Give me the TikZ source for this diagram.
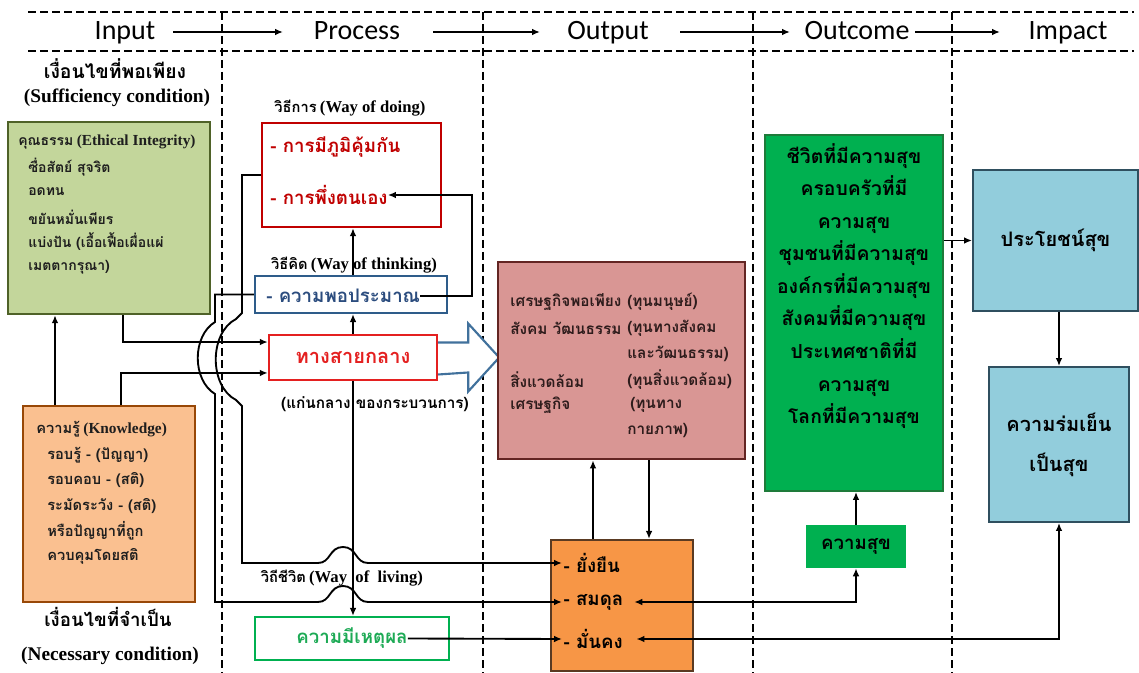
\documentclass[tikz,border=0pt]{standalone}
\usepackage{fontspec}
\setmainfont{Liberation Serif}
\newfontfamily\thaifnt[Script=Thai]{Loma}
\newfontfamily\hdrfnt{Carlito}
\usetikzlibrary{arrows.meta,calc}
\definecolor{virtueFill}{HTML}{C3D69B}
\definecolor{virtueDraw}{HTML}{4F6228}
\definecolor{knowFill}{HTML}{FAC090}
\definecolor{knowDraw}{HTML}{984807}
\definecolor{doingRed}{HTML}{C00000}
\definecolor{thinkDraw}{HTML}{2E5C8A}
\definecolor{thinkText}{HTML}{2B4C7E}
\definecolor{midRed}{HTML}{E42020}
\definecolor{arrowBlue}{HTML}{41719C}
\definecolor{capFill}{HTML}{D99694}
\definecolor{capDraw}{HTML}{632523}
\definecolor{capText}{HTML}{2E1C1C}
\definecolor{sustFill}{HTML}{F79646}
\definecolor{sustDraw}{HTML}{5A3A22}
\definecolor{happyFill}{HTML}{00B050}
\definecolor{happyDraw}{HTML}{1E7B3A}
\definecolor{blueFill}{HTML}{92CDDC}
\definecolor{blueDraw}{HTML}{2F4F5F}
\definecolor{reasonGreen}{HTML}{1DAA55}
\definecolor{darkText}{HTML}{1E1E1E}
\newcommand\thtxt[2]{{\thaifnt\bfseries\fontsize{#1}{#1}\selectfont #2}}
\newcommand\entxt[2]{{\rmfamily\bfseries\fontsize{#1}{#1}\selectfont #2}}
\begin{document}
\begin{tikzpicture}[x=0.75pt,y=-0.75pt,
  rbox/.style 2 args={rectangle,minimum width=#1*0.75pt,minimum height=#2*0.75pt,inner sep=0pt},
  conn/.style={line width=1.4pt,draw=black},
  arr/.style={-{Latex[length=6pt,width=5pt]}},
  darr/.style={{Latex[length=6pt,width=5pt]}-{Latex[length=6pt,width=5pt]}},
  dashline/.style={line width=1.6pt,dash pattern=on 6pt off 3pt},
  hdr/.style={inner sep=0pt,anchor=base,font=\hdrfnt\fontsize{21}{24}\selectfont},
  lbl/.style={inner sep=0pt,text=black},
  tl/.style={inner sep=0pt,anchor=west,text=darkText}]
\useasboundingbox (0,0) rectangle (1139,673);
\fill[white] (0,0) rectangle (1139,673);

% ---------- header ----------
\draw[dashline] (28,12) -- (1134,12);
\draw[dashline] (28,51) -- (1134,51);
\foreach \xx in {222,483,753,952}{\draw[dashline] (\xx,12) -- (\xx,673);}
\node[hdr] (hin)   at (125,40)  {Input};
\node[hdr] (hproc) at (357,40)  {Process};
\node[hdr] (hout)  at (608,40)  {Output};
\node[hdr] (hoc)   at (857,40)  {Outcome};
\node[hdr] (himp)  at (1068,40) {Impact};
\draw[conn,arr] ($(hin.base)+(48,-8)$) -- ($(hproc.base)+(-74,-8)$);
\draw[conn,arr] ($(hproc.base)+(76,-8)$) -- ($(hout.base)+(-68,-8)$);
\draw[conn,arr] ($(hout.base)+(72,-8)$) -- ($(hoc.base)+(-67,-8)$);
\draw[conn,arr] ($(hoc.base)+(58,-8)$) -- ($(himp.base)+(-68,-8)$);

% ---------- input column ----------
\node[lbl,anchor=base] (suff)   at (115,79)  {\thtxt{14.5}{เงื่อนไขที่พอเพียง}};
\node[lbl,anchor=base] (suffen) at (117,103) {\entxt{14.5}{(Sufficiency condition)}};
\node[rbox={202}{192},draw=virtueDraw,fill=virtueFill,line width=1.8pt] (virtue) at (109,218) {};
\node[tl] (g1) at (18,142) {\thtxt{10.5}{คุณธรรม} \entxt{11.5}{(Ethical Integrity)}};
\node[tl] (g2) at (28,167) {\thtxt{10.5}{ซื่อสัตย์ สุจริต}};
\node[tl] (g3) at (28,192) {\thtxt{10.5}{อดทน}};
\node[tl] (g4) at (28,217) {\thtxt{10.5}{ขยันหมั่นเพียร}};
\node[tl] (g5) at (28,242) {\thtxt{10.5}{แบ่งปัน (เอื้อเฟื้อเผื่อแผ่}};
\node[tl] (g6) at (28,267) {\thtxt{10.5}{เมตตากรุณา)}};

\node[rbox={172}{196},draw=knowDraw,fill=knowFill,line width=1.8pt] (know) at (109,504) {};
\node[tl] (k1) at (36,429) {\thtxt{11}{ความรู้} \entxt{11.5}{(Knowledge)}};
\node[tl] (k2) at (47,455) {\thtxt{11}{รอบรู้ - (ปัญญา)}};
\node[tl] (k3) at (47,480) {\thtxt{11}{รอบคอบ - (สติ)}};
\node[tl] (k4) at (47,506) {\thtxt{11}{ระมัดระวัง - (สติ)}};
\node[tl] (k5) at (47,531) {\thtxt{11}{หรือปัญญาที่ถูก}};
\node[tl] (k6) at (47,556) {\thtxt{11}{ควบคุมโดยสติ}};
\node[lbl,anchor=base] (nec)   at (108,626) {\thtxt{14}{เงื่อนไขที่จำเป็น}};
\node[lbl,anchor=base] (necen) at (110,660) {\entxt{14.5}{(Necessary condition)}};

% ---------- process column ----------
\node[lbl] (wdo) at (350,108) {\thtxt{11}{วิธีการ} \entxt{12.5}{(Way of doing)}};
\node[rbox={179}{104},draw=doingRed,line width=1.8pt] (doing) at (351.5,175) {};
\node[tl,text=doingRed] (d1) at (270,147) {\thtxt{14}{- การมีภูมิคุ้มกัน}};
\node[tl,text=doingRed] (d2) at (270,195) {\thtxt{14}{- การพึ่งตนเอง}};
\node[lbl] (wthink) at (354,265) {\thtxt{11}{วิธีคิด} \entxt{12.5}{(Way of thinking)}};
\node[rbox={192}{37},draw=thinkDraw,line width=1.6pt] (think) at (351,294.5) {};
\node[tl,text=thinkText] (thinktxt) at (266,296) {\thtxt{14}{- ความพอประมาณ}};
\node[rbox={168}{45},draw=midRed,line width=1.8pt,text=midRed] (middle) at (353,357.5) {\thtxt{15}{ทางสายกลาง}};
\node[lbl] (core) at (375,404) {\thtxt{11.5}{(แก่นกลาง ของกระบวนการ)}};
\node[lbl] (wlive) at (342,578) {\thtxt{11}{วิถีชีวิต} \entxt{12.5}{(Way\ \ of\ \ living)}};
\node[rbox={194}{43},draw=happyFill,line width=1.6pt] (reason) at (352,638.5) {};
\node[lbl,text=reasonGreen] (reasontxt) at (352,638.5) {\thtxt{14}{ความมีเหตุผล}};

% hollow arrow middle -> capital
\draw[arrowBlue,line width=1.6pt,fill=white,line join=miter]
  ($(middle.east)+(0,-15)$) -- ++(30,0) -- ++(0,-19) -- ($(middle.east)+(61,0)$)
  -- ++(-31,34) -- ++(0,-19) -- ($(middle.east)+(0,17)$);

% ---------- output column ----------
\node[rbox={247}{197},draw=capDraw,fill=capFill,line width=2pt] (cap) at (621.5,360.5) {};
\begin{scope}[every node/.style={tl,text=capText}]
\node (c1l) at (510,302) {\thtxt{11.5}{เศรษฐกิจพอเพียง}};
\node (c1r) at (627,302) {\thtxt{11.5}{(ทุนมนุษย์)}};
\node (c2l) at (510,328) {\thtxt{11.5}{สังคม วัฒนธรรม}};
\node (c2r) at (627,328) {\thtxt{11.5}{(ทุนทางสังคม}};
\node (c3r) at (627,354) {\thtxt{11.5}{และวัฒนธรรม)}};
\node (c4l) at (510,380) {\thtxt{11.5}{สิ่งแวดล้อม}};
\node (c4r) at (627,380) {\thtxt{11.5}{(ทุนสิ่งแวดล้อม)}};
\node (c5l) at (510,405) {\thtxt{11.5}{เศรษฐกิจ}};
\node (c5r) at (630,405) {\thtxt{11.5}{(ทุนทาง}};
\node (c6r) at (627,431) {\thtxt{11.5}{กายภาพ)}};
\end{scope}
\node[rbox={142}{131},draw=sustDraw,fill=sustFill,line width=1.6pt] (sust) at (622,605.5) {};
\node[tl,inner sep=1pt,text=black] (o1) at (562,563) {\thtxt{14}{- ยั่งยืน}};
\node[tl,inner sep=1pt,text=black] (o2) at (562,602) {\thtxt{14}{- สมดุล}};
\node[tl,inner sep=1pt,text=black] (o3) at (562,639) {\thtxt{14}{- มั่นคง}};

% ---------- outcome column ----------
\node[rbox={178}{356},draw=happyDraw,fill=happyFill,line width=1.4pt] (happy) at (854,313) {};
\node[lbl,align=center,text=black,font=\thaifnt\bfseries\fontsize{14.5}{24.4}\selectfont] (happytxt) at (854,286)
 {ชีวิตที่มีความสุข\\ครอบครัวที่มี\\ความสุข\\ชุมชนที่มีความสุข\\องค์กรที่มีความสุข\\สังคมที่มีความสุข\\ประเทศชาติที่มี\\ความสุข\\โลกที่มีความสุข};
\node[rbox={100}{43},fill=happyFill,text=black] (hap) at (856,546.5) {\thtxt{14}{ความสุข}};

% ---------- impact column ----------
\node[rbox={165}{141},draw=blueDraw,fill=blueFill,line width=1.4pt,text=black] (benefit) at (1055.5,240.5) {\thtxt{15}{ประโยชน์สุข}};
\node[rbox={140}{155},draw=blueDraw,fill=blueFill,line width=1.4pt,text=black,align=center,
  font=\thaifnt\bfseries\fontsize{15}{30}\selectfont] (peace) at (1059,444.5) {ความร่มเย็น\\เป็นสุข};

% ---------- connectors ----------
\coordinate (xa) at (123,0);
\coordinate (xb) at (121,0);
\coordinate (xc) at (55,0);
\draw[conn,arr] (know.north -| xc) -- (virtue.south -| xc);
\draw[conn,arr] (virtue.south -| xa) |- ([yshift=11.6pt]middle.west);
\draw[conn,arr] (know.north -| xb) |- ([yshift=-11.6pt]middle.west);

\draw[conn,arr] (middle.north) -- (middle.north |- think.south);
\draw[conn,arr] (think.north -| middle.north) -- (doing.south -| middle.north);
\coordinate (fb) at (472,0);
\draw[conn,arr] (thinktxt.east) -| (fb |- d2.east) -- (d2.east);
\draw[conn,arr] (middle.south) -- (middle.south |- reason.north);

% way of doing -> sustainable
\draw[conn,arr] (doing.west) -| (242,313) -- (236,319)
  .. controls (209,333) and (209,386) .. (236,400) -- (242,406) -- (242,563) -- (318,563)
  .. controls (331,563) and (329,547) .. (343,547)
  .. controls (357,547) and (355,563) .. (368,563) -- (o1.west);
% way of thinking -> balance
\draw[conn,arr] (think.west) -| (215,322)
  .. controls (192,336) and (192,380) .. (215,394) -- (215,602) -- (318,602)
  .. controls (331,602) and (329,586) .. (343,586)
  .. controls (357,586) and (355,602) .. (368,602) -- (o2.west);
% reason -> stability
\draw[conn,arr] (reasontxt.east) -- (o3.west);

\coordinate (xu) at (593,0);
\coordinate (xd) at (649,0);
\draw[conn,arr] (sust.north -| xu) -- (cap.south -| xu);
\draw[conn,arr] (cap.south -| xd) -- (sust.north -| xd);

\draw[conn,arr] (hap.north) -- (hap.north |- happy.south);
\draw[conn,darr] ([xshift=7pt]o2.east) -| (hap.south);
\draw[conn,darr] ([xshift=9pt]o3.east) -| (peace.south);
\draw[conn,arr] (happy.east |- benefit.west) -- (benefit.west);
\draw[conn,arr] (benefit.south -| peace.north) -- (peace.north);
\end{tikzpicture}
\end{document}
